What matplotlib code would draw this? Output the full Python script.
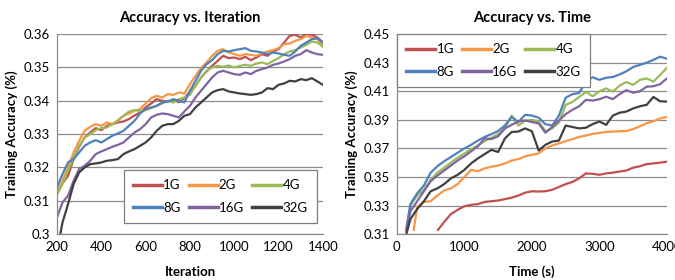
import numpy as np
import matplotlib
matplotlib.use('Agg')
import matplotlib.pyplot as plt
from matplotlib.ticker import FormatStrFormatter

plt.rcParams['font.family'] = ['Lato', 'DejaVu Sans']

labels = ['1G', '2G', '4G', '8G', '16G', '32G']
colors = ['#C0504D', '#F79646', '#9BBB59', '#4F81BD', '#8064A2', '#404040']

# Levá část: přesnost podle iterace (krok 25)
iters = list(range(200, 1401, 25))
iters_32g = [215] + list(range(225, 1401, 25))

acc_iter_1g = [0.3128, 0.3152, 0.3175, 0.3225, 0.3262, 0.3290, 0.3305, 0.3318, 0.3312, 0.3325,
               0.3330, 0.3335, 0.3338, 0.3345, 0.3356, 0.3365, 0.3380, 0.3392, 0.3405, 0.3400,
               0.3398, 0.3402, 0.3396, 0.3408, 0.3428, 0.3445, 0.3470, 0.3488, 0.3505, 0.3520,
               0.3535, 0.3528, 0.3530, 0.3525, 0.3532, 0.3522, 0.3530, 0.3540, 0.3535, 0.3548,
               0.3555, 0.3575, 0.3595, 0.3598, 0.3590, 0.3600, 0.3598, 0.3590, 0.3575]
acc_iter_2g = [0.3125, 0.3160, 0.3200, 0.3245, 0.3280, 0.3310, 0.3322, 0.3330, 0.3325, 0.3335,
               0.3330, 0.3342, 0.3355, 0.3362, 0.3370, 0.3375, 0.3392, 0.3408, 0.3415, 0.3410,
               0.3420, 0.3418, 0.3425, 0.3422, 0.3450, 0.3475, 0.3498, 0.3515, 0.3535, 0.3550,
               0.3555, 0.3545, 0.3540, 0.3535, 0.3540, 0.3538, 0.3535, 0.3542, 0.3548, 0.3552,
               0.3558, 0.3570, 0.3572, 0.3580, 0.3585, 0.3595, 0.3590, 0.3585, 0.3565]
acc_iter_4g = [0.3118, 0.3150, 0.3190, 0.3230, 0.3265, 0.3290, 0.3300, 0.3312, 0.3318, 0.3320,
               0.3330, 0.3340, 0.3355, 0.3368, 0.3372, 0.3370, 0.3372, 0.3378, 0.3385, 0.3392,
               0.3400, 0.3395, 0.3405, 0.3410, 0.3418, 0.3445, 0.3470, 0.3490, 0.3500, 0.3505,
               0.3502, 0.3506, 0.3500, 0.3505, 0.3508, 0.3505, 0.3512, 0.3515, 0.3510, 0.3520,
               0.3528, 0.3540, 0.3548, 0.3552, 0.3560, 0.3568, 0.3578, 0.3575, 0.3562]
acc_iter_8g = [0.3140, 0.3180, 0.3215, 0.3225, 0.3245, 0.3265, 0.3275, 0.3282, 0.3275, 0.3285,
               0.3295, 0.3302, 0.3310, 0.3325, 0.3340, 0.3362, 0.3375, 0.3380, 0.3385, 0.3395,
               0.3398, 0.3405, 0.3400, 0.3395, 0.3430, 0.3460, 0.3490, 0.3510, 0.3522, 0.3540,
               0.3550, 0.3548, 0.3552, 0.3555, 0.3558, 0.3550, 0.3548, 0.3545, 0.3540, 0.3545,
               0.3542, 0.3538, 0.3535, 0.3548, 0.3565, 0.3575, 0.3585, 0.3588, 0.3575]
acc_iter_16g = [0.3050, 0.3095, 0.3115, 0.3160, 0.3195, 0.3205, 0.3220, 0.3240, 0.3248, 0.3255,
                0.3262, 0.3268, 0.3275, 0.3290, 0.3305, 0.3315, 0.3330, 0.3350, 0.3358, 0.3362,
                0.3360, 0.3355, 0.3350, 0.3368, 0.3385, 0.3410, 0.3430, 0.3450, 0.3470, 0.3485,
                0.3490, 0.3485, 0.3480, 0.3478, 0.3485, 0.3480, 0.3490, 0.3495, 0.3500, 0.3508,
                0.3512, 0.3518, 0.3525, 0.3535, 0.3540, 0.3552, 0.3545, 0.3540, 0.3538]
acc_iter_32g = [0.3000, 0.3035, 0.3090, 0.3150, 0.3185, 0.3200, 0.3210, 0.3212, 0.3215, 0.3220,
                0.3222, 0.3225, 0.3240, 0.3248, 0.3255, 0.3265, 0.3275, 0.3290, 0.3310, 0.3325,
                0.3330, 0.3330, 0.3340, 0.3355, 0.3360, 0.3380, 0.3395, 0.3410, 0.3425, 0.3432,
                0.3435, 0.3428, 0.3425, 0.3422, 0.3420, 0.3418, 0.3420, 0.3425, 0.3438, 0.3435,
                0.3448, 0.3452, 0.3460, 0.3458, 0.3465, 0.3462, 0.3468, 0.3458, 0.3448]

# Pravá část: přesnost podle času (krok 100 s)
time_fast = [140] + list(range(200, 4001, 100))
time_2g = [250] + list(range(300, 4001, 100))
time_1g = [610] + list(range(700, 4001, 100))

acc_time_1g = [0.3130, 0.3185, 0.3240, 0.3270, 0.3295, 0.3305, 0.3310, 0.3325, 0.3330, 0.3335,
               0.3345, 0.3355, 0.3370, 0.3390, 0.3400, 0.3398, 0.3400, 0.3410, 0.3430, 0.3450,
               0.3465, 0.3490, 0.3525, 0.3522, 0.3515, 0.3525, 0.3530, 0.3538, 0.3545, 0.3565,
               0.3575, 0.3590, 0.3595, 0.3600, 0.3607]
acc_time_2g = [0.3130, 0.3290, 0.3325, 0.3330, 0.3370, 0.3405, 0.3420, 0.3450, 0.3500, 0.3550,
               0.3540, 0.3560, 0.3572, 0.3580, 0.3595, 0.3615, 0.3625, 0.3645, 0.3655, 0.3665,
               0.3700, 0.3720, 0.3735, 0.3750, 0.3765, 0.3780, 0.3790, 0.3802, 0.3808, 0.3815,
               0.3818, 0.3820, 0.3822, 0.3835, 0.3855, 0.3876, 0.3890, 0.3910, 0.3920]
acc_time_4g = [0.3120, 0.3300, 0.3370, 0.3410, 0.3480, 0.3530, 0.3565, 0.3600, 0.3635, 0.3665,
               0.3695, 0.3720, 0.3750, 0.3775, 0.3800, 0.3840, 0.3930, 0.3860, 0.3895, 0.3900,
               0.3890, 0.3820, 0.3840, 0.3880, 0.4005, 0.4025, 0.4060, 0.4095, 0.4065, 0.4100,
               0.4120, 0.4098, 0.4140, 0.4165, 0.4145, 0.4180, 0.4190, 0.4168, 0.4214, 0.4265]
acc_time_8g = [0.3140, 0.3310, 0.3385, 0.3440, 0.3530, 0.3575, 0.3610, 0.3640, 0.3670, 0.3700,
               0.3725, 0.3755, 0.3780, 0.3800, 0.3822, 0.3860, 0.3920, 0.3885, 0.3935, 0.3930,
               0.3915, 0.3870, 0.3860, 0.3930, 0.4055, 0.4080, 0.4088, 0.4170, 0.4198, 0.4180,
               0.4195, 0.4200, 0.4218, 0.4240, 0.4270, 0.4285, 0.4300, 0.4320, 0.4342, 0.4328]
acc_time_16g = [0.3120, 0.3260, 0.3330, 0.3400, 0.3470, 0.3510, 0.3545, 0.3580, 0.3615, 0.3645,
                0.3680, 0.3715, 0.3770, 0.3765, 0.3785, 0.3840, 0.3865, 0.3890, 0.3895, 0.3885,
                0.3875, 0.3810, 0.3850, 0.3895, 0.3940, 0.3970, 0.3995, 0.4040, 0.4035, 0.4045,
                0.4062, 0.4045, 0.4080, 0.4108, 0.4090, 0.4100, 0.4132, 0.4135, 0.4150, 0.4190]
acc_time_32g = [0.3100, 0.3205, 0.3275, 0.3330, 0.3400, 0.3420, 0.3450, 0.3490, 0.3515, 0.3550,
                0.3595, 0.3630, 0.3660, 0.3690, 0.3675, 0.3770, 0.3815, 0.3818, 0.3840, 0.3820,
                0.3685, 0.3725, 0.3748, 0.3755, 0.3860, 0.3850, 0.3840, 0.3845, 0.3870, 0.3888,
                0.3865, 0.3930, 0.3950, 0.3958, 0.3980, 0.3995, 0.4005, 0.4060, 0.4030, 0.4028]

iter_series = [(iters, acc_iter_1g), (iters, acc_iter_2g), (iters, acc_iter_4g),
               (iters, acc_iter_8g), (iters, acc_iter_16g), (iters_32g, acc_iter_32g)]
time_series = [(time_1g, acc_time_1g), (time_2g, acc_time_2g), (time_fast, acc_time_4g),
               (time_fast, acc_time_8g), (time_fast, acc_time_16g), (time_fast, acc_time_32g)]

grid_color = '#8c8c8c'

fig = plt.figure(figsize=(6.75, 2.8), dpi=100)
ax1 = fig.add_axes([0.0844, 0.164, 0.394, 0.714])
ax2 = fig.add_axes([0.588, 0.164, 0.40, 0.714])


def style_axes(ax):
    ax.yaxis.grid(True, color=grid_color, linewidth=0.9)
    ax.set_axisbelow(True)
    for side in ['top', 'right']:
        ax.spines[side].set_visible(False)
    for side in ['left', 'bottom']:
        ax.spines[side].set_color(grid_color)
        ax.spines[side].set_linewidth(0.9)
    ax.tick_params(length=0, labelsize=9.5, colors='black', pad=5)
    ax.yaxis.set_major_formatter(FormatStrFormatter('%g'))


def add_legend(ax, **kw):
    # legenda se plní po řádcích: 1G 2G 4G / 8G 16G 32G
    handles, labs = ax.get_legend_handles_labels()
    order = [0, 3, 1, 4, 2, 5]
    leg = ax.legend([handles[i] for i in order], [labs[i] for i in order], ncol=3,
                    fontsize=9.5, fancybox=False, edgecolor='#7f7f7f', framealpha=1,
                    borderaxespad=0, handlelength=2.2, handletextpad=0.1,
                    columnspacing=0.6, borderpad=0.7, labelspacing=0.8, **kw)
    leg.get_frame().set_linewidth(0.9)
    for line in leg.get_lines():
        line.set_linewidth(2.5)
    return leg


# Graf 1
for (x, y), lab, col in zip(iter_series, labels, colors):
    ax1.plot(x, y, color=col, linewidth=1.6, label=lab)
ax1.set_xlim(200, 1400)
ax1.set_ylim(0.30, 0.36)
ax1.set_xticks(range(200, 1401, 200))
ax1.set_yticks(np.arange(0.30, 0.3601, 0.01))
style_axes(ax1)
ax1.set_title('Accuracy vs. Iteration', fontsize=10.5, fontweight='bold', pad=9)
ax1.set_xlabel('Iteration', fontsize=9.5, fontweight='bold', labelpad=9)
ax1.set_ylabel('Training Accuracy (%)', fontsize=9.5, fontweight='bold', labelpad=4)
add_legend(ax1, loc='lower right', bbox_to_anchor=(0.977, 0.055))

# Graf 2
for (x, y), lab, col in zip(time_series, labels, colors):
    ax2.plot(x, y, color=col, linewidth=1.6, label=lab)
ax2.set_xlim(0, 4000)
ax2.set_ylim(0.31, 0.45)
ax2.set_xticks(range(0, 4001, 1000))
ax2.set_yticks(np.arange(0.31, 0.4501, 0.02))
style_axes(ax2)
ax2.set_title('Accuracy vs. Time', fontsize=10.5, fontweight='bold', pad=9)
ax2.set_xlabel('Time (s)', fontsize=9.5, fontweight='bold', labelpad=9)
ax2.set_ylabel('Training Accuracy (%)', fontsize=9.5, fontweight='bold', labelpad=4)
add_legend(ax2, loc='upper left', bbox_to_anchor=(0.0, 1.0))

fig.savefig('out.png', dpi=100)
